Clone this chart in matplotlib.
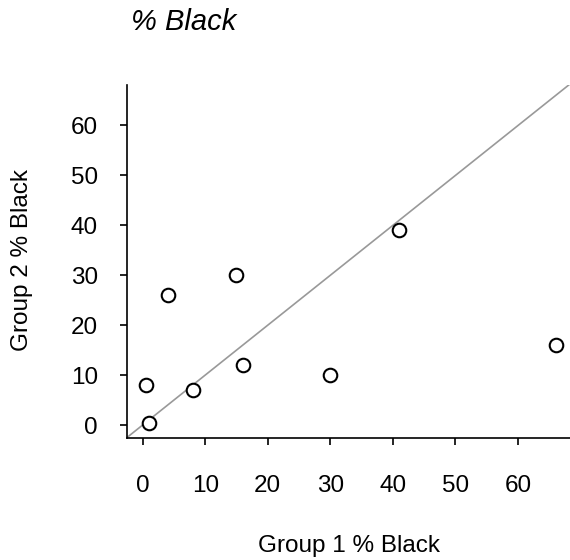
import matplotlib.pyplot as plt

# percent Black in each group
group1 = [0.5, 1, 4, 8, 15, 16, 30, 41, 66]
group2 = [8, 0.5, 26, 7, 30, 12, 10, 39, 16]
ticks = [0, 10, 20, 30, 40, 50, 60]

W, H = 570, 560
plt.rcParams['font.family'] = ['Liberation Sans', 'DejaVu Sans']

fig = plt.figure(figsize=(W / 100, H / 100), dpi=100)
ax = fig.add_axes([127 / W, 1 - 438 / H, 1 - 127 / W, (438 - 85) / H])

ax.set_xlim(-2.5, 68.3)
ax.set_ylim(-2.6, 68.1)

# y = x reference line
ax.axline((0, 0), slope=1, color='#999999', lw=1.2, zorder=1)
ax.scatter(group1, group2, s=95, facecolors='white', edgecolors='black',
           linewidths=1.5, zorder=2)

for side in ['top', 'right']:
    ax.spines[side].set_visible(False)
for side in ['left', 'bottom']:
    ax.spines[side].set_linewidth(1.2)

ax.set_xticks(ticks)
ax.set_yticks(ticks)
ax.tick_params(axis='both', direction='out', length=5, width=1.2, labelsize=17.5)
ax.tick_params(axis='x', pad=22)
ax.tick_params(axis='y', pad=16)

fig.text(349 / W, 1 - 546 / H, 'Group 1 % Black',
         ha='center', va='center', fontsize=17.5)
fig.text(22 / W, 1 - 260 / H, 'Group 2 % Black', ha='center', va='center',
         rotation=90, fontsize=17.5)
fig.text(131 / W, 1 - 22 / H, '% Black', ha='left', va='center',
         fontsize=21, style='italic')

fig.savefig('out.png', dpi=100)
